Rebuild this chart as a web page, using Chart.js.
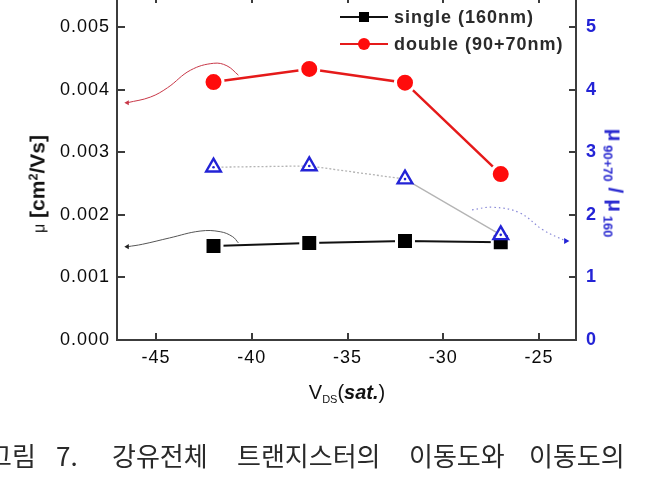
<!DOCTYPE html>
<html><head><meta charset="utf-8">
<script src="https://cdn.jsdelivr.net/npm/chart.js@4.4.1/dist/chart.umd.min.js"></script>
<style>
html,body{margin:0;padding:0;background:#fff;overflow:hidden}
#wrap{position:relative;width:645px;height:485px;overflow:hidden}
canvas{position:absolute;left:0;top:0}
.t{position:absolute;white-space:nowrap;font-family:'Liberation Sans',Arial,sans-serif;line-height:1}
.rot{transform:translate(-50%,-50%) rotate(-90deg)}
.rotc{transform:translate(-50%,-50%) rotate(90deg)}
.ctr{transform:translate(-50%,-50%)}
sub{font-size:60%;vertical-align:-0.35em;line-height:0}
sup{font-size:60%;vertical-align:0.55em;line-height:0}
.cap{position:absolute;top:442px;font-family:'Noto Sans CJK KR',sans-serif;font-size:26px;line-height:26px;color:#2a2a2a;white-space:nowrap}
</style></head><body>
<div id="wrap">
<canvas id="c" width="645" height="485"></canvas>
<div class="t rot" style="left:37px;top:184px;font-size:21px;font-weight:bold;color:#111"><span style="font-weight:normal;font-size:16px">μ</span> [cm<sup>2</sup>/Vs]</div>
<div class="t rotc" style="left:616px;top:183px;font-size:21px;font-weight:bold;color:#2a2ad0">μ<sub style="font-size:62%"> 90+70</sub> / μ<sub style="font-size:62%"> 160</sub></div>
<div class="t ctr" style="left:347px;top:392px;font-size:20px;color:#111">V<sub style="font-size:55%">DS</sub>(<b><i>sat.</i></b>)</div>
<span class="cap" style="left:-12px">그림</span>
<span class="cap" style="left:56px">7.</span>
<span class="cap" style="left:112px">강유전체</span>
<span class="cap" style="left:237px">트랜지스터의</span>
<span class="cap" style="left:409px">이동도와</span>
<span class="cap" style="left:529px">이동도의</span>
</div>
<script>
// ---- data ----
const xValues = [-42, -37, -32, -27];
const singleMu = [0.00150, 0.00155, 0.00158, 0.00156];
const doubleMu = [0.00412, 0.00433, 0.00411, 0.00265];
const ratioMu = [2.76, 2.78, 2.57, 1.68];
const seriesLabels = ['single (160nm)', 'double (90+70nm)'];
const xTicks = [-45, -40, -35, -30, -25];
const muTicks = [0, 0.001, 0.002, 0.003, 0.004, 0.005];
const ratioTicks = [0, 1, 2, 3, 4, 5];
// annotation arrows (curves)
const redArrowX = [-46.5, -45.3, -44.4, -43.2, -42.0, -41.3, -40.7];
const redArrowY = [0.00379, 0.00388, 0.00403, 0.00431, 0.00442, 0.00438, 0.00423];
const blackArrowX = [-46.5, -45.7, -44.3, -42.7, -41.65, -41.0, -40.7];
const blackArrowY = [0.00149, 0.00153, 0.00163, 0.00174, 0.00173, 0.00165, 0.00155];
const blueArrowX = [-28.5, -27.4, -26.0, -24.8, -23.6];
const blueArrowY = [2.08, 2.12, 2.03, 1.76, 1.58];

const FONT = "'Liberation Sans', Arial, sans-serif";
const pts = (xs, ys) => xs.map((x, i) => ({x, y: ys[i]}));
const BLUE = '#2323d6';

const tickPlugin = {
  id: 'ticksIn',
  beforeDraw(chart) { chart.ctx.letterSpacing = '1px'; },
  afterDraw(chart) {
    const ctx = chart.ctx, a = chart.chartArea, s = chart.scales;
    ctx.save();
    ctx.letterSpacing = '0px';
    ctx.strokeStyle = '#3c3c3c'; ctx.lineWidth = 2;
    ctx.beginPath();
    xTicks.forEach(v => { const p = Math.round(s.x.getPixelForValue(v)); ctx.moveTo(p, a.bottom); ctx.lineTo(p, a.bottom - 7); ctx.moveTo(p, a.top); ctx.lineTo(p, a.top + 3); });
    muTicks.forEach(v => { const p = Math.round(s.y.getPixelForValue(v)); ctx.moveTo(a.left, p); ctx.lineTo(a.left + 8, p); });
    ratioTicks.forEach(v => { const p = Math.round(s.y1.getPixelForValue(v)); ctx.moveTo(a.right, p); ctx.lineTo(a.right - 7, p); });
    ctx.stroke();
    // legend
    const rows = [{ds: chart.data.datasets[1], y: 17}, {ds: chart.data.datasets[2], y: 44}];
    rows.forEach((r, i) => {
      ctx.strokeStyle = r.ds.borderColor; ctx.lineWidth = 2;
      ctx.beginPath(); ctx.moveTo(340, r.y); ctx.lineTo(388, r.y); ctx.stroke();
      ctx.fillStyle = r.ds.pointBackgroundColor;
      if (i === 0) { ctx.fillRect(359, r.y - 5, 10, 10); }
      else { ctx.beginPath(); ctx.arc(364, r.y, 6, 0, Math.PI * 2); ctx.fill(); }
      ctx.fillStyle = '#2a2a2a';
      ctx.font = 'bold 18px ' + FONT;
      ctx.letterSpacing = '1px';
      ctx.textBaseline = 'middle'; ctx.textAlign = 'left';
      ctx.fillText(seriesLabels[i], 394, r.y + 1);
    });
    ctx.restore();
  }
};

const fixV = w => s => { s.width = w; s.paddingTop = 0; s.paddingBottom = 0; };

new Chart(document.getElementById('c'), {
  type: 'line',
  data: {
    datasets: [
      { label: 'ratio', data: pts(xValues, ratioMu), yAxisID: 'y1', order: 0,
        borderColor: '#b4b4b4', borderWidth: 1.3, borderDash: [2, 2],
        segment: { borderDash: c => c.p0DataIndex === 2 ? [] : [2, 2] },
        pointStyle: 'triangle', pointRadius: 8.5, pointBorderWidth: 2.4,
        pointBorderColor: BLUE, pointBackgroundColor: '#ffffff' },
      { label: seriesLabels[0], data: pts(xValues, singleMu), yAxisID: 'y', order: 2,
        borderColor: '#111111', borderWidth: 2,
        pointStyle: 'rect', pointRadius: 12, pointBorderWidth: 3,
        pointBorderColor: '#ffffff', pointBackgroundColor: '#000000' },
      { label: seriesLabels[1], data: pts(xValues, doubleMu), yAxisID: 'y', order: 1,
        borderColor: '#e51a1a', borderWidth: 2.5,
        pointStyle: 'circle', pointRadius: 9.5, pointBorderWidth: 3,
        pointBorderColor: '#ffffff', pointBackgroundColor: '#ff0c0c' },
      { label: 'ratioDot', data: pts(xValues, ratioMu), yAxisID: 'y1', order: -1,
        showLine: false, pointStyle: 'circle', pointRadius: 1.3, pointBorderWidth: 0,
        pointBackgroundColor: BLUE },
      { label: 'redArrow', data: pts(redArrowX, redArrowY), yAxisID: 'y', order: 3,
        borderColor: '#c83848', borderWidth: 1, tension: 0.4,
        pointStyle: 'triangle', rotation: -90,
        pointRadius: c => c.dataIndex === 0 ? 3 : 0,
        pointBorderWidth: 0, pointBackgroundColor: '#c83848', pointBorderColor: '#c83848' },
      { label: 'blackArrow', data: pts(blackArrowX, blackArrowY), yAxisID: 'y', order: 3,
        borderColor: '#555555', borderWidth: 1, tension: 0.4,
        pointStyle: 'triangle', rotation: -90,
        pointRadius: c => c.dataIndex === 0 ? 3 : 0,
        pointBorderWidth: 0, pointBackgroundColor: '#222222', pointBorderColor: '#222222' },
      { label: 'blueArrow', data: pts(blueArrowX, blueArrowY), yAxisID: 'y1', order: 3,
        borderColor: '#8a8ad8', borderWidth: 1.2, borderDash: [1.5, 3], tension: 0.4,
        pointStyle: 'triangle', rotation: 90,
        pointRadius: c => c.dataIndex === blueArrowX.length - 1 ? 3.5 : 0,
        pointBorderWidth: 0, pointBackgroundColor: BLUE, pointBorderColor: BLUE }
    ]
  },
  options: {
    responsive: false, animation: false, devicePixelRatio: 1,
    layout: { padding: 0, autoPadding: false },
    plugins: { legend: { display: false }, tooltip: { enabled: false } },
    scales: {
      x: { type: 'linear', position: 'bottom', min: -47.04, max: -23.07,
        afterBuildTicks: s => { s.ticks = xTicks.map(v => ({value: v})); },
        afterFit: s => { s.height = 145; s.paddingLeft = 0; s.paddingRight = 0; },
        ticks: { callback: v => String(v), font: { family: FONT, size: 18 }, color: '#0a0a0a', padding: 7, maxRotation: 0, autoSkip: false },
        grid: { display: false, drawTicks: false },
        border: { display: true, color: '#3c3c3c', width: 2 } },
      y: { type: 'linear', position: 'left', min: 0, max: 0.005431,
        afterBuildTicks: s => { s.ticks = muTicks.map(v => ({value: v})); },
        afterFit: fixV(117),
        ticks: { callback: v => Number(v).toFixed(3), font: { family: FONT, size: 18 }, color: '#0a0a0a', padding: 7, autoSkip: false },
        grid: { display: false, drawTicks: false },
        border: { display: true, color: '#3c3c3c', width: 2 } },
      y1: { type: 'linear', position: 'right', min: 0, max: 5.431,
        afterBuildTicks: s => { s.ticks = ratioTicks.map(v => ({value: v})); },
        afterFit: fixV(69),
        ticks: { callback: v => String(v), font: { family: FONT, size: 18, weight: 'bold' }, color: BLUE, padding: 10, autoSkip: false },
        grid: { display: false, drawTicks: false },
        border: { display: true, color: '#3c3c3c', width: 2 } }
    }
  },
  plugins: [tickPlugin]
});
</script>
</body></html>
